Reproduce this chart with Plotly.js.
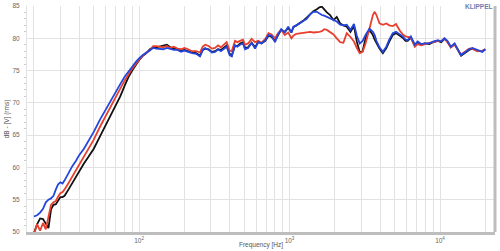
<!DOCTYPE html>
<html>
<head>
<meta charset="utf-8">
<script src="https://cdn.plot.ly/plotly-3.0.1.min.js"></script>
<style>html,body{margin:0;padding:0;background:#fff;}#chart{width:500px;height:251px;}</style>
</head>
<body>
<div id="chart"></div>
<script>
var freq = [20,21,22,23,24,25,26,27,28,29,
  30,31,32,34,36,38,40,43,46,50,
  55,60,65,70,75,80,85,90,95,100,
  106,112,118,124,130,137,145,153,161,170,
  180,190,200,212,225,240,254,265,275,290,
  305,320,335,350,365,382,400,413,434,450,
  469,490,506,530,560,590,620,650,690,725,
  760,800,840,880,930,980,1030,1060,1110,1170,
  1230,1300,1370,1440,1520,1580,1640,1700,1770,1860,
  1960,2060,2170,2280,2400,2540,2680,2800,2930,3060,
  3200,3400,3580,3680,3780,3960,4170,4400,4600,4850,
  5100,5400,5650,5900,6100,6400,6800,7100,7500,7900,
  8500,9000,9700,10200,10700,11200,11800,12500,13100,13800,
  14800,15600,16400,17700,19100,20000];

var blackSeries = [49.8,51.2,52.1,52.0,51.3,50.6,53.5,54.2,54.3,54.9,
  55.4,55.4,55.6,56.6,57.6,58.6,59.5,60.6,61.6,62.9,
  64.8,66.5,68.0,69.5,71.0,72.6,74.0,75.0,75.9,76.6,
  77.3,77.7,78.3,78.6,78.6,78.7,78.9,79.0,78.6,78.4,
  78.3,78.1,78.2,78.0,77.8,77.7,77.3,78.2,78.4,78.3,
  77.9,78.0,78.3,78.2,78.5,78.9,77.6,77.3,78.9,78.8,
  79.2,79.4,78.5,78.6,79.3,78.6,79.5,79.2,79.6,80.4,
  80.2,79.6,80.5,81.3,81.0,81.6,80.9,81.7,82.0,82.3,
  82.7,83.2,83.8,84.2,84.5,84.8,84.9,84.4,84.0,83.6,
  82.8,83.3,82.3,82.0,81.8,81.0,81.9,79.5,77.8,78.0,
  80.0,81.3,80.5,79.8,79.3,78.4,77.7,78.5,79.5,80.5,
  80.8,80.4,80.1,79.6,79.6,80.1,78.9,79.4,79.0,79.2,
  79.1,79.4,79.6,79.4,79.9,79.5,78.6,79.1,78.2,77.3,
  77.8,78.2,78.4,78.1,78.0,78.3];

var redSeries = [49.6,51.2,50.2,51.4,50.4,52.6,54.2,54.6,54.8,55.5,
  56.0,56.2,56.6,57.6,58.6,59.6,60.5,61.6,62.8,64.3,
  66.3,68.0,69.6,70.9,72.2,73.4,74.4,75.3,76.0,76.7,
  77.3,77.8,78.1,78.8,78.8,78.7,78.6,78.8,78.5,78.7,
  78.4,78.3,78.5,78.3,78.0,78.0,77.8,78.7,79.0,78.8,
  78.4,78.5,78.9,78.6,79.0,79.4,78.1,78.0,79.6,79.4,
  79.6,79.8,79.0,79.2,79.9,79.4,79.6,79.3,79.9,80.8,
  80.6,80.0,80.8,81.3,80.5,80.9,80.0,80.4,80.7,80.8,
  80.8,81.0,81.0,80.9,80.9,81.0,81.1,81.4,81.3,81.0,
  80.6,80.0,79.4,79.3,80.8,80.2,79.5,78.5,77.7,77.9,
  79.2,81.5,83.6,84.1,83.6,82.3,82.1,82.3,82.0,81.9,
  82.2,81.2,80.6,80.3,80.2,80.1,78.7,79.1,78.9,79.1,
  79.3,79.4,79.6,79.6,80.0,79.4,78.6,79.0,78.2,77.5,
  78.0,78.4,78.4,78.0,78.1,78.3];

var blueSeries = [52.4,52.6,53.0,53.6,54.6,55.0,55.2,55.6,56.6,57.4,
  57.7,57.5,58.0,59.2,60.2,61.0,61.9,62.9,64.0,65.5,
  67.4,69.0,70.5,71.8,72.9,74.0,74.9,75.6,76.3,76.9,
  77.4,77.8,78.2,78.5,78.4,78.4,78.3,78.5,78.3,78.2,
  78.2,77.9,78.1,77.9,77.7,77.6,77.2,78.2,78.5,78.2,
  77.8,77.9,78.3,78.0,78.4,78.7,77.4,77.2,78.9,78.7,
  79.0,79.2,78.3,78.5,79.3,78.4,79.4,79.2,79.7,80.5,
  80.4,79.4,80.6,81.4,80.9,81.8,80.9,81.8,82.0,82.3,
  82.6,83.0,83.7,84.1,84.1,83.8,83.6,83.5,83.3,83.1,
  82.9,82.6,82.1,82.0,82.1,81.3,82.2,80.4,79.2,79.6,
  80.5,81.5,81.0,80.5,79.6,78.6,77.9,78.7,79.8,80.8,
  81.0,80.6,80.3,79.8,79.7,80.3,79.0,79.5,79.1,79.2,
  79.2,79.5,79.7,79.5,80.0,79.6,78.7,79.2,78.3,77.4,
  77.9,78.3,78.5,78.2,77.9,78.3];

var xTickVals = [100, 1000, 10000];
var xTickText = ['10<sup>2</sup>', '10<sup>3</sup>', '10<sup>4</sup>'];
var minorDecades = [10, 100, 1000, 10000];
var minorMult = [2,3,4,5,6,7,8,9];
var xMinor = [];
minorDecades.forEach(function(d){ minorMult.forEach(function(m){ xMinor.push(d*m); }); });

var lineW = 1.8;
var traces = [
  {x: freq, y: blackSeries, type: 'scatter', mode: 'lines', line: {color: '#111111', width: lineW}, hoverinfo: 'skip'},
  {x: freq, y: redSeries, type: 'scatter', mode: 'lines', line: {color: '#e8402e', width: lineW}, hoverinfo: 'skip'},
  {x: freq, y: blueSeries, type: 'scatter', mode: 'lines', line: {color: '#2446dc', width: lineW}, hoverinfo: 'skip'}
];

var gridC = '#e2e2e2';
var layout = {
  width: 500, height: 251,
  margin: {l: 27, r: 5, t: 6, b: 19, pad: 0},
  paper_bgcolor: '#ffffff', plot_bgcolor: '#ffffff',
  showlegend: false,
  font: {family: 'Liberation Sans, Arial, sans-serif', size: 7, color: '#666'},
  xaxis: {
    type: 'log', range: [Math.log10(18.0), Math.log10(23200)],
    tickmode: 'array', tickvals: xTickVals, ticktext: xTickText,
    showgrid: true, gridcolor: gridC, gridwidth: 1,
    minor: {tickmode: 'array', tickvals: xMinor, showgrid: true, gridcolor: gridC, gridwidth: 1, ticks: ''},
    ticks: '', ticklabelstandoff: 0,
    showline: true, linecolor: '#bdbdbd', linewidth: 3,
    zeroline: false,
    tickfont: {size: 6.5, color: '#666'},
    title: {text: 'Frequency [Hz]', font: {size: 6.5, color: '#555'}, standoff: 0}
  },
  yaxis: {
    range: [50, 85], dtick: 5, tick0: 50,
    showgrid: true, gridcolor: gridC, gridwidth: 1,
    ticks: 'outside', ticklen: 5, tickcolor: 'rgba(0,0,0,0)',
    minor: {dtick: 1, ticks: 'outside', ticklen: 2, tickcolor: '#cccccc', showgrid: false},
    showline: true, linecolor: '#e2e2e2', linewidth: 1,
    zeroline: false,
    tickfont: {size: 6.5, color: '#666'},
    title: {text: 'dB - [V] (rms)', font: {size: 6.5, color: '#555'}, standoff: 2}
  },
  shapes: [
    {type: 'line', xref: 'paper', yref: 'paper', x0: 1, x1: 1, y0: 0, y1: 1, line: {color: '#bdbdbd', width: 3}}
  ],
  annotations: [
    {text: '<b>KLIPPEL</b>', xref: 'paper', yref: 'paper', x: 0.998, y: 1.0, xanchor: 'right', yanchor: 'middle',
     showarrow: false, font: {size: 6.5, color: '#6b7db3', family: 'Liberation Sans, Arial, sans-serif'}}
  ]
};

Plotly.newPlot('chart', traces, layout, {displayModeBar: false, staticPlot: true});
</script>
</body>
</html>
